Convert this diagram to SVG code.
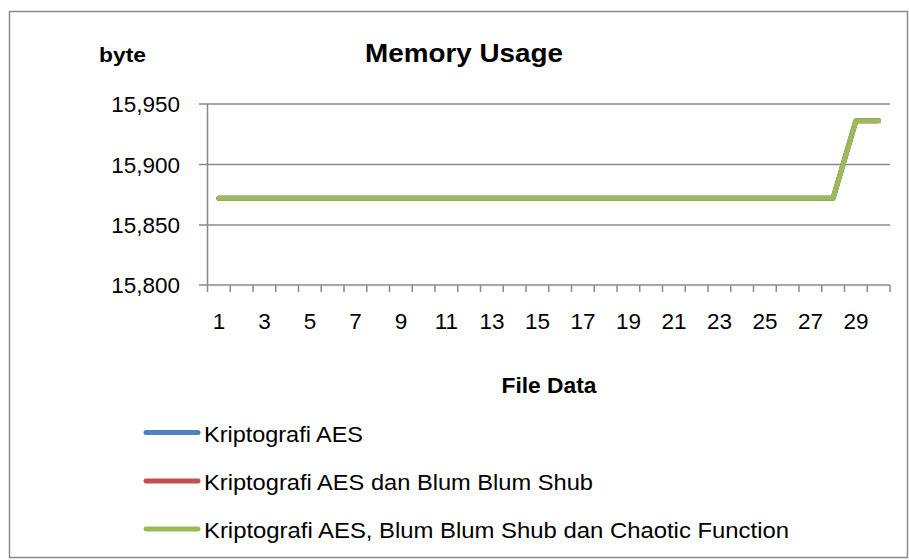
<svg xmlns="http://www.w3.org/2000/svg" width="909" height="560" viewBox="0 0 909 560">
<style>
text{font-family:"Liberation Sans",Arial,sans-serif;fill:#000}
.ax{font-size:22.5px}
.b{font-weight:bold}
.grid{stroke:#8a8a8a;stroke-width:1.5;fill:none}
.s{fill:none;stroke-width:5;stroke-linecap:round;stroke-linejoin:round}
.leg{font-size:22px}
</style>
<rect x="9.5" y="11.5" width="898" height="546" fill="#fff" stroke="#8a8a8a" stroke-width="1.5"/>
<g id="title">
<text x="464" y="62" font-size="26" class="b" text-anchor="middle" textLength="198" lengthAdjust="spacingAndGlyphs">Memory Usage</text>
</g>
<g id="y-axis-title"><text x="99" y="62" font-size="21" class="b" textLength="47" lengthAdjust="spacingAndGlyphs">byte</text></g>
<g id="x-axis-title"><text x="549" y="393" font-size="22" class="b" text-anchor="middle" textLength="95" lengthAdjust="spacingAndGlyphs">File Data</text></g>
<g id="grid">
<line class="grid" x1="199" y1="104" x2="890" y2="104"/>
<line class="grid" x1="199" y1="164.5" x2="890" y2="164.5"/>
<line class="grid" x1="199" y1="225" x2="890" y2="225"/>
<line class="grid" x1="199" y1="285" x2="890" y2="285"/>
<line class="grid" x1="207.5" y1="104" x2="207.5" y2="292"/>
<path class="grid" d="M230.25 285V292M253 285V292M275.75 285V292M298.5 285V292M321.25 285V292M344 285V292M366.75 285V292M389.5 285V292M412.25 285V292M435 285V292M457.75 285V292M480.5 285V292M503.25 285V292M526 285V292M548.75 285V292M571.5 285V292M594.25 285V292M617 285V292M639.75 285V292M662.5 285V292M685.25 285V292M708 285V292M730.75 285V292M753.5 285V292M776.25 285V292M799 285V292M821.75 285V292M844.5 285V292M867.25 285V292M890 285V292"/>
</g>
<g id="y-labels" class="ax" text-anchor="end">
<text x="180" y="112">15,950</text>
<text x="180" y="172.5">15,900</text>
<text x="180" y="233">15,850</text>
<text x="180" y="293">15,800</text>
</g>
<g id="x-labels" class="ax" text-anchor="middle">
<text x="218.9" y="328.5">1</text>
<text x="264.4" y="328.5">3</text>
<text x="309.9" y="328.5">5</text>
<text x="355.4" y="328.5">7</text>
<text x="400.9" y="328.5">9</text>
<text x="446.4" y="328.5">11</text>
<text x="491.9" y="328.5">13</text>
<text x="537.4" y="328.5">15</text>
<text x="582.9" y="328.5">17</text>
<text x="628.4" y="328.5">19</text>
<text x="673.9" y="328.5">21</text>
<text x="719.4" y="328.5">23</text>
<text x="764.9" y="328.5">25</text>
<text x="810.4" y="328.5">27</text>
<text x="855.9" y="328.5">29</text>
</g>
<g id="connectors">
<polyline id="series-aes" class="s" stroke="#4F81BD" points="218.9,198.2 833.1,198.2 855.9,120.8 878.6,120.8"/>
<polyline id="series-aes-bbs" class="s" stroke="#C0504D" points="218.9,198.2 833.1,198.2 855.9,120.8 878.6,120.8"/>
<polyline id="series-aes-bbs-chaotic" class="s" stroke="#9BBB59" points="218.9,198.2 833.1,198.2 855.9,120.8 878.6,120.8"/>
</g>
<g id="legend">
<g id="legend-1"><line class="s" stroke="#4F81BD" x1="146" y1="432.5" x2="198" y2="432.5"/><text class="leg" x="204" y="441.5" textLength="159" lengthAdjust="spacingAndGlyphs">Kriptografi AES</text></g>
<g id="legend-2"><line class="s" stroke="#C0504D" x1="146" y1="481" x2="198" y2="481"/><text class="leg" x="204" y="490" textLength="389" lengthAdjust="spacingAndGlyphs">Kriptografi AES dan Blum Blum Shub</text></g>
<g id="legend-3"><line class="s" stroke="#9BBB59" x1="146" y1="529" x2="198" y2="529"/><text class="leg" x="204" y="538" textLength="585" lengthAdjust="spacingAndGlyphs">Kriptografi AES, Blum Blum Shub dan Chaotic Function</text></g>
</g>
</svg>
